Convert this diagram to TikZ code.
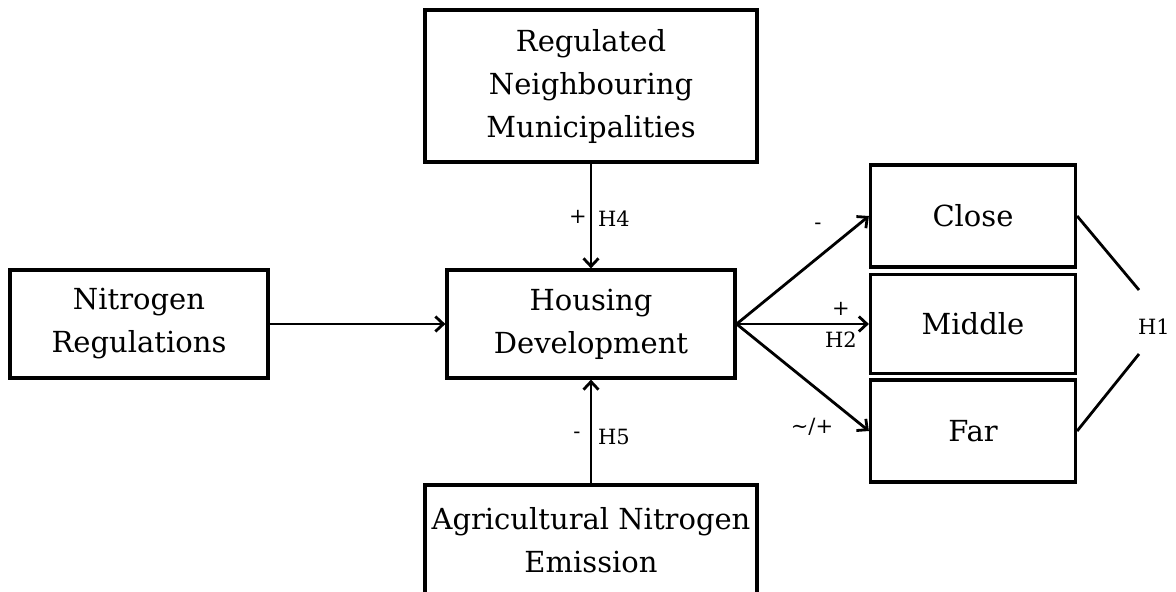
\documentclass[tikz,border=0pt]{standalone}
\usepackage{fontspec}
\setmainfont{DejaVu Serif}
\usetikzlibrary{arrows.meta}
\begin{document}
\begin{tikzpicture}[x=1pt,y=-1pt,
  box/.style={draw,line width=3.2pt,inner sep=0pt,align=center,
    font=\fontsize{29}{43}\selectfont},
  conn/.style={line width=2.8pt,-{Straight Barb[length=8pt,width=15pt,line width=2.8pt]}},
  lab/.style={inner sep=0pt,font=\fontsize{21}{24}\selectfont}]
\useasboundingbox (0,0) rectangle (1176,592);
\node[box,minimum width=332pt,minimum height=152pt] (top) at (591,86) {Regulated\\Neighbouring\\Municipalities};
\node[box,minimum width=258pt,minimum height=108pt] (nr) at (139,324) {Nitrogen\\Regulations};
\node[box,minimum width=288pt,minimum height=108pt] (hd) at (591,324) {Housing\\Development};
\node[box,minimum width=332pt,minimum height=110pt] (ag) at (591,540) {Agricultural Nitrogen\\Emission};
\node[box,minimum width=205pt,minimum height=102pt] (close) at (973,216) {Close};
\node[box,minimum width=205pt,minimum height=99pt] (middle) at (973,324) {Middle};
\node[box,minimum width=205pt,minimum height=102pt] (far) at (973,431) {Far};
\node[lab] (h1) at (1154,327) {H1};
\coordinate (h1a) at (1139,290);
\coordinate (h1b) at (1139,354);
\draw[conn] (top.south) -- (hd.north);
\draw[conn] (ag.north) -- (hd.south);
\draw[conn] (nr.east) -- (hd.west);
\draw[conn] (hd.east) -- (close.west);
\draw[conn] (hd.east) -- (middle.west);
\draw[conn] (hd.east) -- (far.west);
\draw[line width=2.8pt] (close.east) -- (h1a);
\draw[line width=2.8pt] (far.east) -- (h1b);
\node[lab] (p4) at (578,217) {+};
\node[lab] (h4) at (614,219) {H4};
\node[lab] (m5) at (577,435) {-};
\node[lab] (h5) at (614,437) {H5};
\node[lab] (mc) at (818,226) {-};
\node[lab] (pm) at (841,309) {+};
\node[lab] (h2) at (841,340) {H2};
\node[lab] (tf) at (812,427) {\textasciitilde/+};
\end{tikzpicture}
\end{document}
